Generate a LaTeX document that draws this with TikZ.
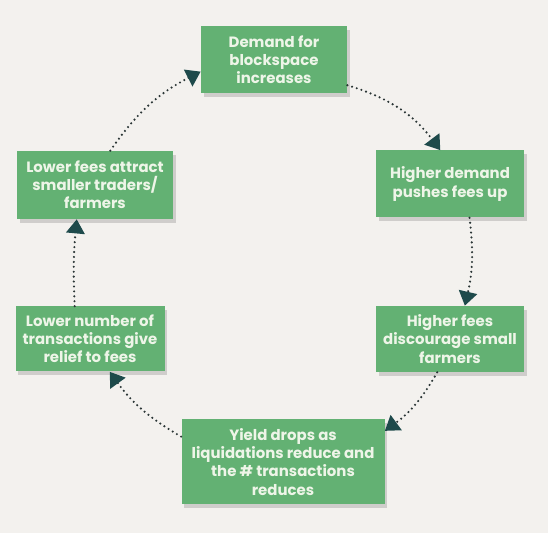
\documentclass[tikz,border=0pt]{standalone}
\usepackage{fontspec}
\setmainfont{Poppins}
\usetikzlibrary{arrows.meta, shadows}

\definecolor{bgcol}{HTML}{F3F1EE}
\definecolor{boxgreen}{HTML}{63B173}
\definecolor{boxtext}{HTML}{EEF5E8}
\definecolor{tipcol}{HTML}{1E4A4B}
\definecolor{dotcol}{HTML}{2A3535}

\tikzset{
    loopbox/.style={rectangle, fill=boxgreen, text=boxtext, align=center,
        font=\fontsize{8.5}{10.3}\selectfont\bfseries, inner sep=2pt,
        drop shadow={shadow xshift=1.5pt, shadow yshift=-2pt, fill=black!45, opacity=.35}},
    loopflow/.style={dotcol, line width=1.35pt, line cap=round, dash pattern=on 0pt off 2.8pt,
        -{Triangle[length=8pt, width=10.5pt, fill=tipcol, color=tipcol, line cap=butt]}}
}

\begin{document}
\begin{tikzpicture}[x=0.02cm, y=-0.02cm]
    % Background
    \fill[bgcol] (0,0) rectangle (548,533);
    \useasboundingbox (0,0) rectangle (548,533);

    % Draw nodes
    \node[loopbox, minimum width=146*0.02cm, minimum height=67*0.02cm] (demand) at (274,60) {Demand for\\blockspace\\increases};
    \node[loopbox, minimum width=148*0.02cm, minimum height=67*0.02cm] (pushes) at (450,184) {Higher demand\\pushes fees up};
    \node[loopbox, minimum width=148*0.02cm, minimum height=66*0.02cm] (discourage) at (450,339) {Higher fees\\discourage small\\farmers};
    \node[loopbox, minimum width=203*0.02cm, minimum height=85*0.02cm] (yield) at (283,462) {Yield drops as\\liquidations reduce and\\the \# transactions\\reduces};
    \node[loopbox, minimum width=149*0.02cm, minimum height=65*0.02cm] (relief) at (90,339) {Lower number of\\transactions give\\relief to fees};
    \node[loopbox, minimum width=156*0.02cm, minimum height=68*0.02cm] (attract) at (95,185) {Lower fees attract\\smaller traders/\\farmers};

    % Draw connections
    \draw[loopflow] (demand.-19) to[bend left=18] (pushes.106);
    \draw[loopflow] (pushes.-60) to[bend left=10] (discourage.66);
    \draw[loopflow] (discourage.-111) to[bend left=12] (yield.17);
    \draw[loopflow] (yield.166) to[bend left=12] (relief.-59);
    \draw[loopflow] (relief.115) to[bend left=4] (attract.-118);
    \draw[loopflow] (attract.66) to[bend left=14] (demand.189);
\end{tikzpicture}
\end{document}
